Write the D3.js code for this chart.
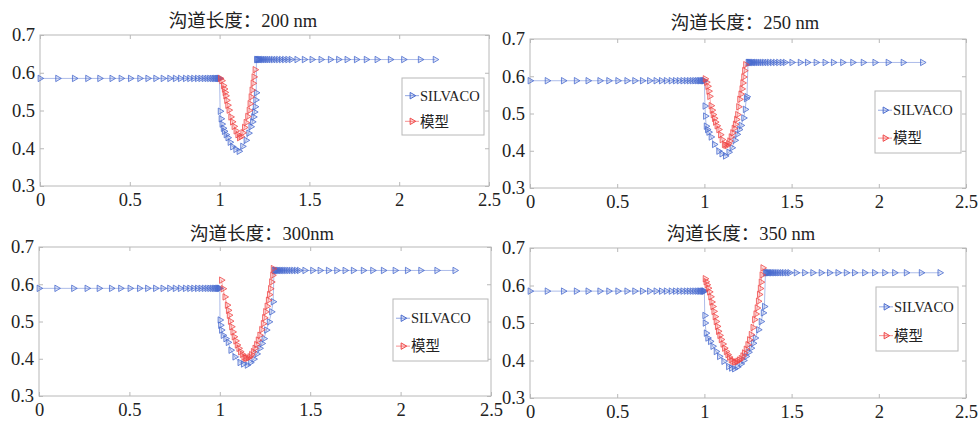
<!DOCTYPE html>
<html>
<head>
<meta charset="utf-8">
<script src="https://cdn.jsdelivr.net/npm/d3@7"></script>
<style>
  body { margin: 0; background: #fff; }
  text { font-family: "Times New Roman", "Liberation Serif", "DejaVu Serif", "Noto Sans CJK SC", serif; fill: #222; }
</style>
</head>
<body>
<svg id="chart" width="978" height="421"></svg>
<script>
// ---- data ----
var titles = ["沟道长度：200 nm", "沟道长度：250 nm", "沟道长度：300nm", "沟道长度：350 nm"];
var xTicks = [0, 0.5, 1, 1.5, 2, 2.5];
var yTicks = [0.3, 0.4, 0.5, 0.6, 0.7];
var seriesNames = ["SILVACO", "模型"];

// source-side mesh (same in every panel)
var sourceX = [0, 0.098, 0.191, 0.265, 0.332, 0.4, 0.451, 0.503, 0.555, 0.6, 0.644, 0.685, 0.722, 0.753,
  0.781, 0.809, 0.833, 0.855, 0.876, 0.895, 0.913, 0.929, 0.944, 0.957, 0.968, 0.977, 0.985, 0.991, 0.996, 1.0];
var sourceLevel = [0.585, 0.588, 0.589, 0.585];
var drainLevel = [0.635, 0.637, 0.637, 0.634];

var drainX1 = [1.205, 1.209, 1.213, 1.218, 1.223, 1.229, 1.236, 1.244, 1.253, 1.263, 1.274, 1.286, 1.299, 1.313,
  1.328, 1.344, 1.361, 1.379, 1.398, 1.43, 1.471, 1.514, 1.564, 1.616, 1.662, 1.709, 1.761, 1.816, 1.876, 1.95,
  2.024, 2.117, 2.2];
var drainX2 = [1.25, 1.254, 1.258, 1.263, 1.268, 1.274, 1.281, 1.289, 1.298, 1.308, 1.319, 1.331, 1.344, 1.358,
  1.373, 1.389, 1.406, 1.425, 1.445, 1.463, 1.501, 1.549, 1.59, 1.64, 1.691, 1.739, 1.792, 1.85, 1.91, 1.977,
  2.053, 2.139, 2.25];
var drainX3 = [1.3, 1.304, 1.308, 1.313, 1.318, 1.324, 1.331, 1.339, 1.348, 1.358, 1.369, 1.381, 1.394, 1.408,
  1.423, 1.439, 1.47, 1.513, 1.554, 1.6, 1.646, 1.692, 1.738, 1.793, 1.845, 1.904, 1.969, 2.037, 2.111, 2.2, 2.3];
var drainX4 = [1.35, 1.354, 1.358, 1.363, 1.368, 1.374, 1.381, 1.389, 1.398, 1.408, 1.419, 1.431, 1.444, 1.458,
  1.473, 1.489, 1.526, 1.574, 1.621, 1.669, 1.717, 1.765, 1.813, 1.86, 1.918, 1.975, 2.033, 2.09, 2.157, 2.243, 2.35];

// SILVACO inside the channel
var silvacoX1 = [1.003, 1.008, 1.013, 1.02, 1.026, 1.036, 1.046, 1.058, 1.072, 1.09, 1.108, 1.128, 1.147, 1.162,
  1.174, 1.183, 1.189, 1.194, 1.198, 1.201, 1.204];
var silvacoY1 = [0.498, 0.478, 0.464, 0.453, 0.445, 0.436, 0.428, 0.416, 0.404, 0.397, 0.392, 0.405, 0.421, 0.44,
  0.457, 0.47, 0.483, 0.496, 0.51, 0.528, 0.547];
var silvacoX2 = [1.003, 1.006, 1.01, 1.017, 1.025, 1.038, 1.057, 1.082, 1.1, 1.12, 1.14, 1.158, 1.175, 1.187, 1.2,
  1.21, 1.225, 1.234, 1.24, 1.244];
var silvacoY2 = [0.52, 0.493, 0.466, 0.457, 0.45, 0.437, 0.417, 0.399, 0.392, 0.386, 0.396, 0.408, 0.428, 0.444,
  0.457, 0.468, 0.488, 0.511, 0.54, 0.545];
var silvacoX3 = [1.001, 1.004, 1.009, 1.018, 1.033, 1.046, 1.061, 1.083, 1.111, 1.13, 1.151, 1.17, 1.188, 1.205,
  1.221, 1.233, 1.244, 1.258, 1.273, 1.286, 1.295];
var silvacoY3 = [0.504, 0.49, 0.477, 0.463, 0.454, 0.444, 0.423, 0.405, 0.39, 0.386, 0.383, 0.39, 0.399, 0.413,
  0.428, 0.441, 0.454, 0.477, 0.499, 0.526, 0.553];
var silvacoX4 = [1.002, 1.004, 1.01, 1.019, 1.034, 1.048, 1.067, 1.086, 1.111, 1.138, 1.155, 1.172, 1.19, 1.21,
  1.225, 1.239, 1.254, 1.268, 1.28, 1.291, 1.31, 1.325, 1.337, 1.344];
var silvacoY4 = [0.52, 0.5, 0.473, 0.46, 0.451, 0.438, 0.424, 0.411, 0.398, 0.384, 0.38, 0.378, 0.383, 0.391, 0.4,
  0.411, 0.422, 0.433, 0.446, 0.46, 0.482, 0.504, 0.527, 0.544];

// model
var modelX1 = [1.004, 1.012, 1.021, 1.026, 1.03, 1.034, 1.039, 1.045, 1.052, 1.062, 1.071, 1.08, 1.091, 1.101,
  1.11, 1.119, 1.129, 1.138, 1.147, 1.156, 1.164, 1.169, 1.175, 1.18, 1.186, 1.191, 1.197];
var modelY1 = [0.585, 0.579, 0.566, 0.557, 0.548, 0.539, 0.527, 0.514, 0.501, 0.483, 0.47, 0.458, 0.446, 0.436,
  0.428, 0.431, 0.441, 0.455, 0.468, 0.484, 0.5, 0.518, 0.536, 0.554, 0.572, 0.589, 0.608];
var modelX2 = [1.004, 1.012, 1.019, 1.025, 1.03, 1.038, 1.044, 1.05, 1.057, 1.063, 1.072, 1.082, 1.092, 1.101,
  1.114, 1.122, 1.13, 1.138, 1.145, 1.153, 1.162, 1.17, 1.177, 1.184, 1.19, 1.196, 1.202, 1.209, 1.215, 1.22,
  1.225, 1.23, 1.236];
var modelY2 = [0.593, 0.584, 0.573, 0.56, 0.546, 0.521, 0.509, 0.497, 0.487, 0.477, 0.467, 0.457, 0.443, 0.43,
  0.417, 0.415, 0.414, 0.419, 0.426, 0.437, 0.448, 0.46, 0.471, 0.484, 0.497, 0.518, 0.538, 0.552, 0.566, 0.582,
  0.598, 0.615, 0.631];
var modelX3 = [1.009, 1.018, 1.028, 1.041, 1.047, 1.052, 1.058, 1.065, 1.072, 1.079, 1.088, 1.096, 1.105, 1.114,
  1.124, 1.133, 1.141, 1.148, 1.157, 1.166, 1.175, 1.185, 1.194, 1.203, 1.212, 1.221, 1.231, 1.24, 1.247, 1.253,
  1.261, 1.268, 1.274, 1.28, 1.286, 1.292, 1.295];
var modelY3 = [0.611, 0.588, 0.566, 0.544, 0.53, 0.517, 0.501, 0.486, 0.472, 0.459, 0.448, 0.437, 0.428, 0.419,
  0.412, 0.405, 0.402, 0.401, 0.402, 0.405, 0.411, 0.419, 0.428, 0.438, 0.45, 0.463, 0.478, 0.494, 0.51, 0.526,
  0.541, 0.557, 0.572, 0.588, 0.606, 0.624, 0.642];
var modelX4 = [1.004, 1.009, 1.015, 1.022, 1.029, 1.036, 1.042, 1.048, 1.054, 1.061, 1.067, 1.074, 1.08, 1.088,
  1.096, 1.106, 1.115, 1.125, 1.134, 1.143, 1.153, 1.162, 1.172, 1.181, 1.191, 1.2, 1.21, 1.22, 1.229, 1.239,
  1.249, 1.258, 1.268, 1.278, 1.287, 1.295, 1.302, 1.309, 1.315, 1.32, 1.325, 1.33, 1.335];
var modelY4 = [0.618, 0.61, 0.602, 0.593, 0.583, 0.57, 0.556, 0.544, 0.531, 0.517, 0.504, 0.491, 0.478, 0.467,
  0.456, 0.444, 0.433, 0.424, 0.416, 0.409, 0.402, 0.398, 0.396, 0.396, 0.398, 0.401, 0.405, 0.412, 0.42, 0.43,
  0.442, 0.455, 0.469, 0.488, 0.509, 0.524, 0.54, 0.558, 0.576, 0.592, 0.609, 0.628, 0.647];

var drainX = [drainX1, drainX2, drainX3, drainX4];
var silvacoX = [silvacoX1, silvacoX2, silvacoX3, silvacoX4];
var silvacoY = [silvacoY1, silvacoY2, silvacoY3, silvacoY4];
var modelX = [modelX1, modelX2, modelX3, modelX4];
var modelY = [modelY1, modelY2, modelY3, modelY4];

// ---- layout ----
var layout = [
  {left: 40, right: 489, top: 35, bottom: 186, tx: 243, ty: 27, lg: {x: 402, y: 78, w: 82, h: 57}},
  {left: 530, right: 966, top: 39, bottom: 188, tx: 745, ty: 29, lg: {x: 875, y: 91, w: 86, h: 62}},
  {left: 39, right: 491, top: 247, bottom: 396, tx: 262, ty: 240, lg: {x: 393, y: 299, w: 95, h: 62}},
  {left: 530, right: 966, top: 248, bottom: 398, tx: 741, ty: 240, lg: {x: 876, y: 287, w: 82, h: 64}}
];

var blue = "#4a6bcf", red = "#f04848";
var frameColor = "#b8b8b8";
var serif = '"Times New Roman", "Liberation Serif", "DejaVu Serif", serif';

var svg = d3.select("#chart");
var marker = d3.symbol().type(d3.symbolTriangle).size(18);

layout.forEach(function(p, k) {
  var x = d3.scaleLinear().domain([0, 2.5]).range([p.left, p.right]);
  var y = d3.scaleLinear().domain([0.3, 0.7]).range([p.bottom, p.top]);
  var g = svg.append("g");

  // axes, MATLAB style: ticks inside on all four sides
  var fmt = function(d) { return String(d); };
  var ax = g.append("g").attr("transform", "translate(0," + p.bottom + ")")
    .call(d3.axisBottom(x).tickValues(xTicks).tickSize(-4).tickPadding(7).tickFormat(fmt));
  var axT = g.append("g").attr("transform", "translate(0," + p.top + ")")
    .call(d3.axisTop(x).tickValues(xTicks).tickSize(-4).tickFormat(""));
  var ay = g.append("g").attr("transform", "translate(" + p.left + ",0)")
    .call(d3.axisLeft(y).tickValues(yTicks).tickSize(-4).tickPadding(5).tickFormat(d3.format(".1f")));
  var ayR = g.append("g").attr("transform", "translate(" + p.right + ",0)")
    .call(d3.axisRight(y).tickValues(yTicks).tickSize(-4).tickFormat(""));
  [ax, axT, ay, ayR].forEach(function(a) {
    a.attr("font-family", serif);
    a.select(".domain").remove();
    a.selectAll("line").attr("stroke", frameColor);
    a.selectAll("text").attr("font-size", 18.5).attr("fill", "#222");
  });

  g.append("rect")
    .attr("x", p.left).attr("y", p.top)
    .attr("width", p.right - p.left).attr("height", p.bottom - p.top)
    .attr("fill", "none").attr("stroke", frameColor).attr("stroke-width", 1);

  g.append("text")
    .attr("x", p.tx).attr("y", p.ty)
    .attr("text-anchor", "middle")
    .attr("font-size", 18.5)
    .attr("fill", "#222")
    .text(titles[k]);

  // series
  var silvaco = sourceX.map(function(v) { return [v, sourceLevel[k]]; })
    .concat(silvacoX[k].map(function(v, i) { return [v, silvacoY[k][i]]; }))
    .concat(drainX[k].map(function(v) { return [v, drainLevel[k]]; }));
  var model = modelX[k].map(function(v, i) { return [v, modelY[k][i]]; });

  var line = d3.line().x(function(d) { return x(d[0]); }).y(function(d) { return y(d[1]); });

  [[silvaco, blue], [model, red]].forEach(function(s) {
    g.append("path").datum(s[0])
      .attr("d", line)
      .attr("fill", "none")
      .attr("stroke", s[1])
      .attr("stroke-opacity", 0.5)
      .attr("stroke-width", 0.9);
    g.selectAll(null).data(s[0]).enter().append("path")
      .attr("d", marker)
      .attr("transform", function(d) { return "translate(" + x(d[0]) + "," + y(d[1]) + ") rotate(90)"; })
      .attr("fill", s[1])
      .attr("fill-opacity", 0.18)
      .attr("stroke", s[1])
      .attr("stroke-opacity", 0.8)
      .attr("stroke-width", 1);
  });

  // legend
  var lg = g.append("g").attr("transform", "translate(" + p.lg.x + "," + p.lg.y + ")");
  lg.append("rect").attr("width", p.lg.w).attr("height", p.lg.h)
    .attr("fill", "#fff").attr("stroke", frameColor);
  [blue, red].forEach(function(c, i) {
    var yy = p.lg.h * (i === 0 ? 0.31 : 0.76);
    lg.append("line").attr("x1", 3).attr("x2", 17).attr("y1", yy).attr("y2", yy)
      .attr("stroke", c).attr("stroke-opacity", 0.6);
    lg.append("path").attr("d", marker)
      .attr("transform", "translate(10," + yy + ") rotate(90)")
      .attr("fill", c).attr("fill-opacity", 0.18)
      .attr("stroke", c).attr("stroke-width", 1);
    lg.append("text").attr("x", 18).attr("y", yy).attr("dy", "0.36em")
      .attr("font-size", 14.5).attr("fill", "#222")
      .text(seriesNames[i]);
  });
});
</script>
</body>
</html>
